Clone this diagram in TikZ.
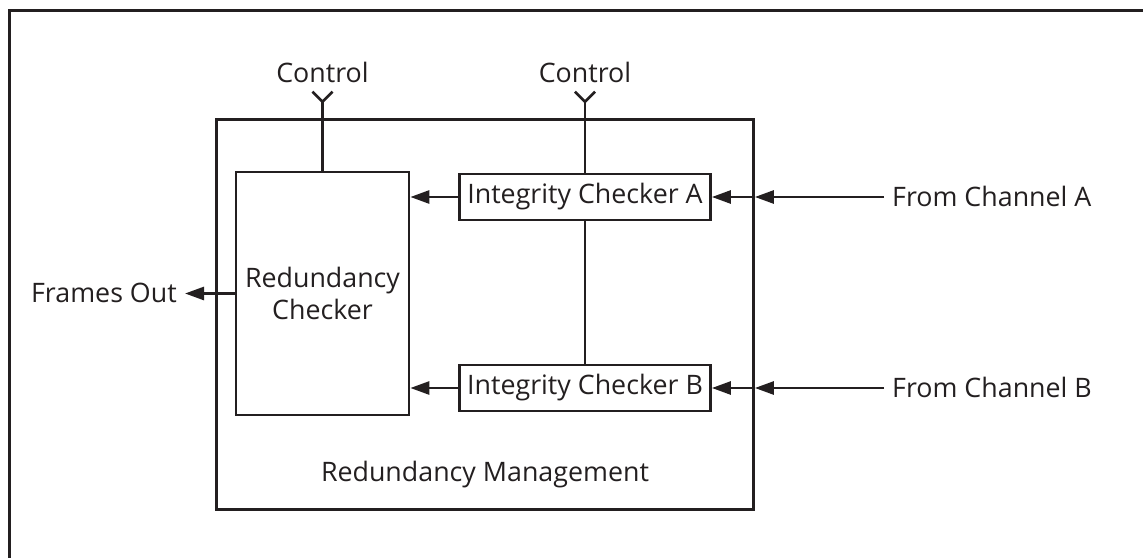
\documentclass[tikz,border=0pt]{standalone}
\usepackage{fontspec}
\setmainfont{Open Sans}
\usetikzlibrary{arrows.meta}
\definecolor{ink}{RGB}{35,31,32}
\begin{document}
\begin{tikzpicture}[x=1pt,y=-1pt,
  every node/.style={font=\fontsize{26.8}{31.3}\selectfont, text=ink},
  box/.style={draw=ink, line width=2.7pt, rectangle, inner sep=0pt},
  lbl/.style={inner ysep=0pt, inner xsep=8pt, text height=18pt, text depth=0pt},
  wire/.style={draw=ink, line width=2.7pt},
  arr/.style={wire, -{Triangle[length=19pt, width=13pt]}}]
  % page area and the outer frame running off its right and bottom sides
  \useasboundingbox (0,0) rectangle (1143,557);
  \begin{scope}
    \clip (0,0) rectangle (1143,557);
    \draw[ink, line width=3pt] (9,10) rectangle (1200,620);
  \end{scope}

  % blocks
  \node[box, minimum width=537pt, minimum height=390pt] (mgmt) at (485,314.5) {};
  \node[lbl] (mgmtlbl) at (485,472.7) {Redundancy Management};
  \node[box, minimum width=173pt, minimum height=243pt, align=center] (rc) at (322.5,293.5)
    {Redundancy\\Checker};
  \node[box, minimum width=251pt, minimum height=46pt] (icA) at (585,197) {Integrity Checker A};
  \node[box, minimum width=251pt, minimum height=46pt] (icB) at (585,388) {Integrity Checker B};

  % external labels
  \node[lbl, anchor=base] (ctlL) at (322.5,82.3) {Control};
  \node[lbl, anchor=base] (ctlR) at (585,82.3) {Control};
  \node[lbl, anchor=west] (chA) at (884,197) {From Channel A};
  \node[lbl, anchor=west] (chB) at (884,388) {From Channel B};
  \node[lbl, anchor=east] (out) at (185,293.5) {Frames Out};

  % control inputs drawn as small forks
  \coordinate (forkL) at (322.5,101.7);
  \coordinate (forkR) at (585,101.7);
  \draw[wire] (rc.north) -- (forkL);
  \draw[wire, line join=miter] ([shift={(-10,-10)}]forkL) -- (forkL) -- ([shift={(10,-10)}]forkL);
  \draw[wire] (icA.north) -- (forkR);
  \draw[wire, line join=miter] ([shift={(-10,-10)}]forkR) -- (forkR) -- ([shift={(10,-10)}]forkR);

  % link between the two integrity checkers
  \draw[wire] (icA.south) -- (icB.south |- icB.north);

  % channel inputs, entering at the management boundary
  \coordinate (inA) at (mgmt.east |- icA.east);
  \coordinate (inB) at (mgmt.east |- icB.east);
  \draw[arr] (chA.west) -- (inA);
  \draw[arr] (inA) -- (icA.east);
  \draw[arr] (chB.west) -- (inB);
  \draw[arr] (inB) -- (icB.east);

  % checker outputs into the redundancy checker
  \draw[arr] (icA.west) -- (rc.east |- icA.west);
  \draw[arr] (icB.west) -- (rc.east |- icB.west);

  % frames out
  \draw[arr] (rc.west) -- (out.east);
\end{tikzpicture}
\end{document}
